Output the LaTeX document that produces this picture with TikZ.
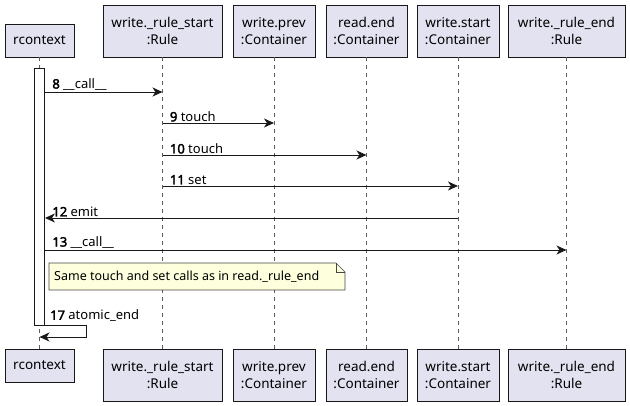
\documentclass[tikz,border=0pt]{standalone}
\usepackage{fontspec}
\setmainfont{Noto Sans}[BoldFont={Noto Sans}, BoldFeatures={FakeBold=2.5}]
\usetikzlibrary{arrows.meta,positioning}

\definecolor{partfill}{HTML}{E2E2F0}
\definecolor{notefill}{HTML}{FEFFDD}
\definecolor{edgegray}{HTML}{181818}

\tikzset{
    part/.style={rectangle, draw=edgegray, line width=0.9pt, fill=partfill, align=center,
        font=\fontsize{13.5}{17}\selectfont, inner sep=0pt, minimum height=33pt},
    life/.style={draw=edgegray!70, dash pattern=on 4pt off 4pt, line width=0.6pt},
    msg/.style={draw=edgegray, line width=0.9pt, -{Stealth[length=10pt,width=9pt,inset=3pt]}},
    lbl/.style={font=\fontsize{13}{15}\selectfont, anchor=south west, inner sep=1pt}
}

\begin{document}
\begin{tikzpicture}[x=1pt, y=-1pt]
    \useasboundingbox (0,0) rectangle (630,406);

    % participants, top and bottom
    \node[part, minimum width=69pt]  (ctxT)  at (39.5,40.5)  {rcontext};
    \node[part, minimum width=119pt, minimum height=52pt] (rsT) at (162.5,31) {write.\_rule\_start\\:Rule};
    \node[part, minimum width=82pt,  minimum height=52pt] (prT) at (274,31)   {write.prev\\:Container};
    \node[part, minimum width=81pt,  minimum height=52pt] (reT) at (366.5,31) {read.end\\:Container};
    \node[part, minimum width=82pt,  minimum height=52pt] (wsT) at (458,31)   {write.start\\:Container};
    \node[part, minimum width=117pt, minimum height=52pt] (reE) at (566.5,31) {write.\_rule\_end\\:Rule};

    \node[part, minimum width=69pt]  (ctxB)  at (39.5,365.5) {rcontext};
    \node[part, minimum width=119pt, minimum height=52pt] (rsB) at (162.5,375) {write.\_rule\_start\\:Rule};
    \node[part, minimum width=82pt,  minimum height=52pt] (prB) at (274,375)   {write.prev\\:Container};
    \node[part, minimum width=81pt,  minimum height=52pt] (reB) at (366.5,375) {read.end\\:Container};
    \node[part, minimum width=82pt,  minimum height=52pt] (wsB) at (458,375)   {write.start\\:Container};
    \node[part, minimum width=117pt, minimum height=52pt] (reEB) at (566.5,375) {write.\_rule\_end\\:Rule};

    % lifelines
    \foreach \t/\b in {ctxT/ctxB, rsT/rsB, prT/prB, reT/reB, wsT/wsB, reE/reEB}
        \draw[life] (\t.south) -- (\b.north);

    % activation bar
    \node[draw=edgegray, fill=white, line width=0.9pt, minimum width=10pt,
        minimum height=257pt, inner sep=0pt] (act) at (39.5,196.5) {};

    % messages
    \draw[msg] (act.east |- 0,92) -- (rsT.south |- 0,92)
        node[lbl, pos=0, xshift=6pt] {\textbf{8} \_\_call\_\_};
    \draw[msg] (rsT.south |- 0,123) -- (prT.south |- 0,123)
        node[lbl, pos=0, xshift=6pt] {\textbf{9} touch};
    \draw[msg] (rsT.south |- 0,155) -- (reT.south |- 0,155)
        node[lbl, pos=0, xshift=6pt] {\textbf{10} touch};
    \draw[msg] (rsT.south |- 0,186) -- (wsT.south |- 0,186)
        node[lbl, pos=0, xshift=6pt] {\textbf{11} set};
    \draw[msg] (wsT.south |- 0,218) -- (act.east |- 0,218)
        node[lbl, pos=1, xshift=6pt] {\textbf{12} emit};
    \draw[msg] (act.east |- 0,250) -- (reE.south |- 0,250)
        node[lbl, pos=0, xshift=6pt] {\textbf{13} \_\_call\_\_};

    % note
    \draw[edgegray!80, fill=notefill, line width=0.7pt]
        (49,263) -- (336,263) -- (345,272) -- (345,290) -- (49,290) -- cycle;
    \draw[edgegray!80, line width=0.7pt] (336,263) -- (336,272) -- (345,272);
    \node[font=\fontsize{12.5}{15}\selectfont, anchor=west, inner sep=0pt] (note)
        at (54,277) {Same touch and set calls as in read.\_rule\_end};

    % self call
    \coordinate (selfA) at (act.east |- 0,325);
    \coordinate (selfB) at (ctxT.south |- 0,337);
    \draw[msg] (selfA) -- (86,325) -- (86,337) -- (selfB);
    \node[lbl] at (49,323) {\textbf{17} atomic\_end};
\end{tikzpicture}
\end{document}
